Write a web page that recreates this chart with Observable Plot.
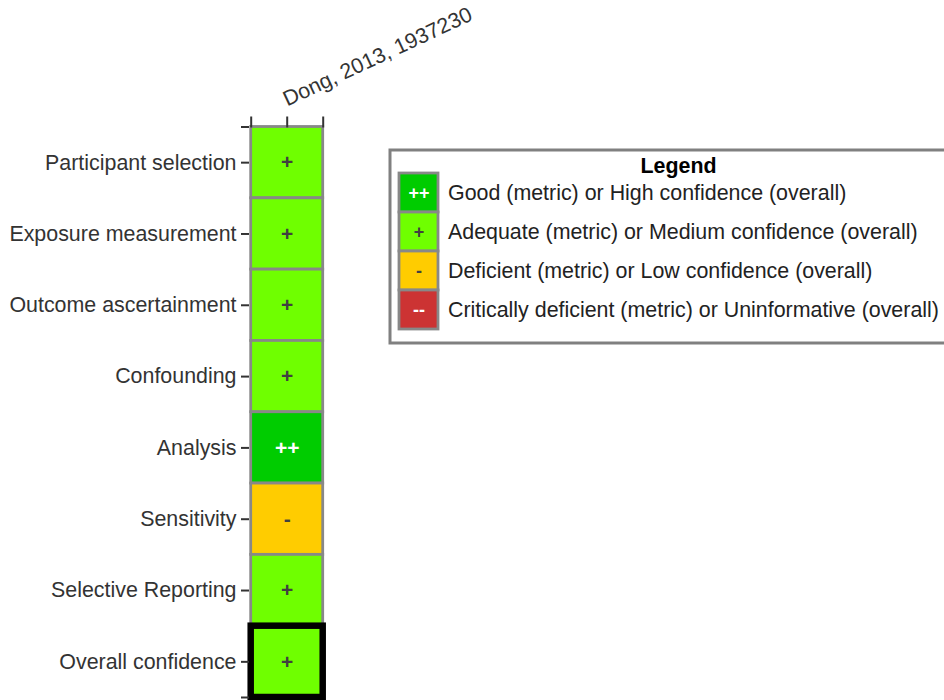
<!DOCTYPE html>
<html><head><meta charset="utf-8">
<script src="https://cdn.jsdelivr.net/npm/d3@7"></script>
<script src="https://cdn.jsdelivr.net/npm/@observablehq/plot@0.6"></script>
<style>
html,body{margin:0;padding:0;background:#fff;overflow:hidden;width:944px;height:700px}
#wrap{position:relative;width:944px;height:700px;overflow:hidden}
#chart{position:absolute;left:0;top:0}
#legend{position:absolute;left:388px;top:148px;width:580px}
svg{max-width:none !important}
</style></head><body><div id="wrap"><div id="chart"></div><div id="legend"></div></div>
<script>
const study = "Dong, 2013, 1937230";
const metrics = ["Participant selection","Exposure measurement","Outcome ascertainment","Confounding","Analysis","Sensitivity","Selective Reporting","Overall confidence"];
const scores = ["+","+","+","+","++","-","+","+"];
const legendSymbols = ["++","+","-","--"];
const legendLabels = ["Good (metric) or High confidence (overall)","Adequate (metric) or Medium confidence (overall)","Deficient (metric) or Low confidence (overall)","Critically deficient (metric) or Uninformative (overall)"];
const scoreFill = {"++":"#00CC00","+":"#6FFF00","-":"#FFCC00","--":"#CC3333"};
const scoreText = {"++":"#ffffff","+":"#404040","-":"#404040","--":"#ffffff"};

const rows = metrics.map((m,i)=>({metric:m, index:i, score:scores[i], overall: m==="Overall confidence"}));
const yTicks = [0, ...metrics.map((m,i)=>i+0.5), metrics.length];
const yLabel = v => Number.isInteger(v) ? "" : metrics[v-0.5];
const xTicks = [0, 0.5, 1];
const xLabel = v => v === 0.5 ? study : "";
const font = "'Liberation Sans', Arial, sans-serif";

const chart = Plot.plot({
  width: 944, height: 700,
  marginLeft: 250.7, marginRight: 621.3, marginTop: 126.5, marginBottom: 3,
  style: {fontFamily: font, fontSize: "21.4px", color: "#333", background: "#fff", overflow: "visible", maxWidth: "none"},
  x: {domain: [0, 1]},
  y: {domain: [0, metrics.length], reverse: true},
  marks: [
    Plot.rect(rows, {x1: () => 0, x2: () => 1, y1: d => d.index, y2: d => d.index + 1, fill: d => scoreFill[d.score], stroke: "#888", strokeWidth: 2.8}),
    Plot.rect(rows.filter(d => d.overall), {x1: () => 0, x2: () => 1, y1: d => d.index, y2: d => d.index + 1, fill: "none", stroke: "#000", strokeWidth: 6.5}),
    Plot.text(rows, {x: () => 0.5, y: d => d.index + 0.5, text: d => d.score, fill: d => scoreText[d.score], fontWeight: "bold", fontSize: 21}),
    Plot.axisY({ticks: yTicks, tickFormat: yLabel, tickSize: 8, tickPadding: 5, dx: -1.7, strokeWidth: 2, label: null}),
    Plot.axisX({anchor: "top", ticks: xTicks, tickFormat: xLabel, tickSize: 11, tickPadding: 9.5, tickRotate: -25, textAnchor: "start", lineAnchor: "bottom", strokeWidth: 2, label: null})
  ]
});
document.getElementById("chart").append(chart);

const legendRows = legendSymbols.map((s, i) => ({symbol: s, label: legendLabels[i], key: "swatch"}));
const legend = Plot.plot({
  width: 580, height: 196, margin: 0,
  style: {fontFamily: font, fontSize: "21.4px", color: "#222", background: "#fff", overflow: "visible", maxWidth: "none"},
  x: {type: "band", domain: ["swatch"], range: [11, 50.7], padding: 0, axis: null},
  y: {type: "band", domain: legendLabels, range: [25, 181.5], padding: 0, axis: null},
  marks: [
    Plot.frame({stroke: "#808080", strokeWidth: 3, inset: 1.5}),
    Plot.text(["Legend"], {text: d => d, frameAnchor: "top-left", dx: 290, dy: 24, textAnchor: "middle", lineAnchor: "bottom", fontWeight: "bold", fill: "#000"}),
    Plot.cell(legendRows, {x: "key", y: "label", fill: d => scoreFill[d.symbol], stroke: "#888", strokeWidth: 2.8, inset: 0}),
    Plot.text(legendRows, {x: "key", y: "label", text: "symbol", fill: d => scoreText[d.symbol], fontWeight: "bold", fontSize: 18}),
    Plot.text(legendRows, {x: "key", y: "label", text: "label", dx: 29, textAnchor: "start", fill: "#222"})
  ]
});
document.getElementById("legend").append(legend);
</script></body></html>
